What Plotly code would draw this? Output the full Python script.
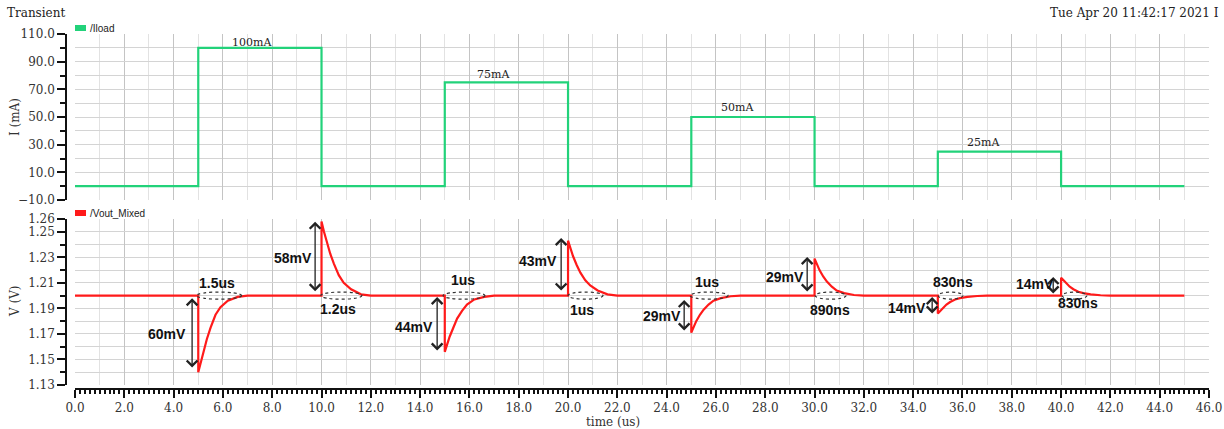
import plotly.graph_objects as go

# ---------------- data ----------------
load_t = [0, 5, 10, 15, 20, 25, 30, 35, 40, 45]
load_ma = [0, 100, 0, 75, 0, 50, 0, 25, 0, 0]
step_labels = ["100mA", "75mA", "50mA", "25mA"]
step_label_t = [7.18, 16.96, 26.86, 36.84]
step_label_ma = [104.2, 80.4, 57.2, 31.9]

vout_t = [0.0,
          5.0, 5.0, 5.1, 5.2, 5.35, 5.5, 5.7, 5.9, 6.2, 6.6, 7.0,
          10.0, 10.0, 10.1, 10.2, 10.35, 10.5, 10.7, 10.9, 11.2, 11.6, 12.0,
          15.0, 15.0, 15.1, 15.2, 15.35, 15.5, 15.7, 15.9, 16.2, 16.6, 17.0,
          20.0, 20.0, 20.1, 20.2, 20.35, 20.5, 20.7, 20.9, 21.2, 21.6, 22.0,
          25.0, 25.0, 25.1, 25.2, 25.35, 25.5, 25.7, 25.9, 26.2, 26.6, 27.0,
          30.0, 30.0, 30.1, 30.2, 30.35, 30.5, 30.7, 30.9, 31.2, 31.6, 32.0,
          35.0, 35.0, 35.1, 35.2, 35.35, 35.5, 35.7, 35.9, 36.2, 36.6, 37.0,
          40.0, 40.0, 40.1, 40.2, 40.35, 40.5, 40.7, 40.9, 41.2, 41.6, 42.0,
          45.0]
vout_v = [1.2,
          1.2, 1.140, 1.148, 1.156, 1.166, 1.175, 1.185, 1.191, 1.196, 1.199, 1.2,
          1.2, 1.258, 1.250, 1.243, 1.233, 1.225, 1.216, 1.210, 1.205, 1.201, 1.2,
          1.2, 1.156, 1.162, 1.168, 1.175, 1.182, 1.188, 1.193, 1.197, 1.199, 1.2,
          1.2, 1.243, 1.236, 1.231, 1.224, 1.218, 1.212, 1.208, 1.204, 1.201, 1.2,
          1.2, 1.171, 1.176, 1.180, 1.185, 1.189, 1.193, 1.196, 1.198, 1.1995, 1.2,
          1.2, 1.229, 1.224, 1.220, 1.215, 1.211, 1.207, 1.204, 1.202, 1.2005, 1.2,
          1.2, 1.186, 1.188, 1.190, 1.193, 1.195, 1.197, 1.198, 1.199, 1.1997, 1.2,
          1.2, 1.214, 1.212, 1.210, 1.207, 1.205, 1.203, 1.202, 1.201, 1.2003, 1.2,
          1.2]

mv_text = ["60mV", "58mV", "44mV", "43mV", "29mV", "29mV", "14mV", "14mV"]
arrow_t = [4.75, 9.74, 14.69, 19.72, 24.71, 29.70, 34.77, 39.68]
arrow_v_top = [1.1979, 1.2579, 1.1989, 1.2451, 1.1966, 1.2302, 1.1989, 1.2146]
arrow_v_bot = [1.1425, 1.2023, 1.1559, 1.2028, 1.1715, 1.2021, 1.1848, 1.2005]
mv_label_t = [3.73, 8.84, 13.75, 18.78, 23.81, 28.80, 33.75, 38.95]
mv_label_v = [1.170, 1.2295, 1.1754, 1.2271, 1.184, 1.2146, 1.1903, 1.2091]
ellipse_t0 = [4.93, 9.97, 14.93, 20.0, 24.95, 30.02, 35.01, 40.04]
ellipse_t1 = [6.76, 11.64, 16.63, 21.42, 26.49, 31.28, 36.02, 41.05]
time_text = ["1.5us", "1.2us", "1us", "1us", "1us", "890ns", "830ns", "830ns"]
time_label_t = [5.76, 10.67, 15.74, 20.57, 25.64, 30.63, 35.62, 40.69]
time_label_v = [1.2099, 1.1895, 1.2122, 1.1887, 1.2107, 1.1887, 1.2107, 1.1942]

top_ticks = [-10, 10, 30, 50, 70, 90, 110]
bot_ticks = [1.13, 1.15, 1.17, 1.19, 1.21, 1.23, 1.25, 1.26]

# ---------------- layout helpers ----------------
W, H = 1224, 429
ML, MR, MT, MB = 66, 15, 34, 40
PW, PH = W - ML - MR, H - MT - MB


def px_x(px):
    return (px - ML) / PW


def px_y(py):
    return (H - MB - py) / PH


GREEN = "#22d27a"
RED = "#ff1a1a"
SERIF = "DejaVu Serif"
SANS = "Liberation Sans"

fig = go.Figure()
fig.add_trace(go.Scatter(x=load_t, y=load_ma, mode="lines", line=dict(color=GREEN, width=2.2, shape="hv"),
                         xaxis="x", yaxis="y", showlegend=False, hoverinfo="skip"))
fig.add_trace(go.Scatter(x=vout_t, y=vout_v, mode="lines", line=dict(color=RED, width=2.2),
                         xaxis="x2", yaxis="y2", showlegend=False, hoverinfo="skip"))
fig.add_trace(go.Scatter(x=[0, 46], y=[None, None], mode="lines", xaxis="x3", yaxis="y2",
                         showlegend=False, hoverinfo="skip"))

xdom = [px_x(75), 1.0]
grid_h = "#d4d4d4"
grid_vmaj = "#c4c4c4"
grid_vmin = "#e2e2e2"
tickfont = dict(family=SERIF, size=12, color="#333")

xgrid = dict(range=[0, 46], domain=xdom, showticklabels=False, ticks="", showline=False, zeroline=False,
             dtick=2, tick0=0, showgrid=True, gridcolor=grid_vmaj, gridwidth=1, automargin=False,
             minor=dict(dtick=1, tick0=0, showgrid=True, gridcolor=grid_vmin, ticks=""))

fig.update_layout(
    width=W, height=H, margin=dict(l=ML, r=MR, t=MT, b=MB, autoexpand=False),
    paper_bgcolor="white", plot_bgcolor="white",
    xaxis=dict(**xgrid, anchor="y"),
    xaxis2=dict(**xgrid, anchor="y2"),
    xaxis3=dict(range=[0, 46], domain=xdom, overlaying="x2", anchor="free", position=0, automargin=False,
                showgrid=False, zeroline=False, showline=True, linecolor="#111", linewidth=1.5,
                ticks="outside", ticklen=8, tickwidth=1.5, tickcolor="#111", dtick=2, tick0=0,
                tickformat=".1f", tickfont=tickfont,
                minor=dict(dtick=0.2, tick0=0, ticks="outside", ticklen=4, tickcolor="#111", showgrid=False)),
    yaxis=dict(range=[-10, 110], domain=[px_y(200), 1.0], anchor="free", position=0, automargin=False,
               tickvals=top_ticks, tickformat=".1f", tickfont=tickfont,
               showgrid=True, gridcolor=grid_h, zeroline=False,
               showline=True, linecolor="#111", linewidth=1.5,
               ticks="outside", ticklen=8, tickwidth=1.5, tickcolor="#111",
               minor=dict(dtick=10, tick0=0, ticks="outside", ticklen=5, tickcolor="#111",
                          showgrid=True, gridcolor=grid_h)),
    yaxis2=dict(range=[1.13, 1.26], domain=[px_y(385), px_y(219)], anchor="free", position=0, automargin=False,
                tickvals=bot_ticks, tickformat=".2f", tickfont=tickfont,
                showgrid=True, gridcolor=grid_h, zeroline=False,
                showline=True, linecolor="#111", linewidth=1.5,
                ticks="outside", ticklen=8, tickwidth=1.5, tickcolor="#111",
                minor=dict(dtick=0.01, tick0=1.13, ticks="outside", ticklen=5, tickcolor="#111",
                           showgrid=True, gridcolor=grid_h)),
)

anns = []
shapes = []

# header texts
anns.append(dict(text="Transient", x=px_x(5), y=px_y(13), xref="paper", yref="paper",
                 xanchor="left", yanchor="middle", showarrow=False,
                 font=dict(family=SERIF, size=12, color="#222")))
anns.append(dict(text="Tue Apr 20 11:42:17 2021 I", x=px_x(1221), y=px_y(13), xref="paper", yref="paper",
                 xanchor="right", yanchor="middle", showarrow=False,
                 font=dict(family=SERIF, size=12, color="#222")))

# legends
for name, col, py in [("/Iload", GREEN, 28), ("/Vout_Mixed", RED, 213)]:
    shapes.append(dict(type="rect", xref="paper", yref="paper", x0=px_x(75), x1=px_x(86),
                       y0=px_y(py + 3), y1=px_y(py - 3), fillcolor=col, line=dict(width=0)))
    anns.append(dict(text=name, x=px_x(88), y=px_y(py), xref="paper", yref="paper",
                     xanchor="left", yanchor="middle", showarrow=False,
                     font=dict(family=SANS, size=10, color="#222")))

# axis titles
anns.append(dict(text="I (mA)", x=px_x(15), y=px_y(117), xref="paper", yref="paper", textangle=-90,
                 xanchor="center", yanchor="middle", showarrow=False,
                 font=dict(family=SERIF, size=12, color="#333")))
anns.append(dict(text="V (V)", x=px_x(15), y=px_y(301), xref="paper", yref="paper", textangle=-90,
                 xanchor="center", yanchor="middle", showarrow=False,
                 font=dict(family=SERIF, size=12, color="#333")))
anns.append(dict(text="time (us)", x=px_x(613), y=px_y(422), xref="paper", yref="paper",
                 xanchor="center", yanchor="middle", showarrow=False,
                 font=dict(family=SERIF, size=12, color="#333")))

# step labels
for txt, t, v in zip(step_labels, step_label_t, step_label_ma):
    anns.append(dict(text=txt, x=t, y=v, xref="x", yref="y", showarrow=False,
                     xanchor="center", yanchor="middle",
                     font=dict(family=SERIF, size=11, color="#222")))

# voltage annotations
for i in range(len(mv_text)):
    anns.append(dict(text="", x=arrow_t[i], y=arrow_v_top[i], ax=arrow_t[i], ay=arrow_v_bot[i],
                     xref="x2", yref="y2", axref="x2", ayref="y2", showarrow=True,
                     arrowside="end+start", arrowhead=4, arrowsize=1.6, arrowwidth=1.3,
                     arrowcolor="#222", standoff=0, startstandoff=0))
    anns.append(dict(text="<b>%s</b>" % mv_text[i], x=mv_label_t[i], y=mv_label_v[i],
                     xref="x2", yref="y2", showarrow=False, xanchor="center", yanchor="middle",
                     font=dict(family=SANS, size=14, color="#111")))
    shapes.append(dict(type="circle", xref="x2", yref="y2", x0=ellipse_t0[i], x1=ellipse_t1[i],
                       y0=1.1972, y1=1.2028, line=dict(color="#333", width=1.2, dash="dot")))
    anns.append(dict(text="<b>%s</b>" % time_text[i], x=time_label_t[i], y=time_label_v[i],
                     xref="x2", yref="y2", showarrow=False, xanchor="center", yanchor="middle",
                     font=dict(family=SANS, size=14, color="#111")))

fig.update_layout(annotations=anns, shapes=shapes)
fig.write_html("out.html")
